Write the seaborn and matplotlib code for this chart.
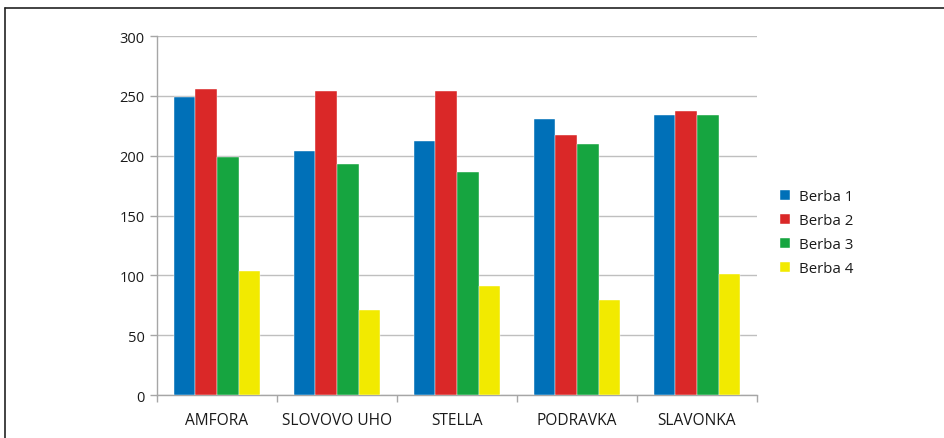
import matplotlib.pyplot as plt
import pandas as pd
import seaborn as sns
from matplotlib.lines import Line2D

# Data
sorts = ['AMFORA', 'SLOVOVO UHO', 'STELLA', 'PODRAVKA', 'SLAVONKA']
series = ['Berba 1', 'Berba 2', 'Berba 3', 'Berba 4']
berba1 = [249, 204, 212, 231, 234]
berba2 = [256, 254, 254, 217, 237]
berba3 = [199, 193, 186, 210, 234]
berba4 = [104, 71, 91, 79, 101]
colors = ['#0070B8', '#DA2828', '#16A540', '#F2EA00']

df = pd.DataFrame({'sort': sorts * 4,
                   'berba': [s for s in series for _ in sorts],
                   'value': berba1 + berba2 + berba3 + berba4})

sns.set_style('white')
plt.rcParams['font.family'] = ['Open Sans', 'DejaVu Sans']

fig = plt.figure(figsize=(9.44, 4.39), dpi=100)
ax = fig.add_axes([0.1663, 0.0979, 0.6356, 0.8178])

sns.barplot(data=df, x='sort', y='value', hue='berba', order=sorts, hue_order=series,
            palette=colors, width=0.72, saturation=1, ax=ax,
            edgecolor='white', linewidth=0.3, zorder=3)

ax.set_ylim(0, 300)
ax.set_xlim(-0.5, 4.5)
ax.set_yticks(range(0, 301, 50))
ax.yaxis.grid(True, color='#BFBFBF', linewidth=1, zorder=0)
ax.set_axisbelow(True)
ax.set_xlabel('')
ax.set_ylabel('')

for s in ['top', 'right']:
    ax.spines[s].set_visible(False)
for s in ['left', 'bottom']:
    ax.spines[s].set_color('#A6A6A6')
    ax.spines[s].set_linewidth(1)

ax.tick_params(axis='y', which='major', left=True, length=5, width=1, color='#A6A6A6',
               labelsize=10.5, pad=4, labelcolor='#1a1a1a')
ax.set_xticks([-0.5, 0.5, 1.5, 2.5, 3.5, 4.5], minor=True)
ax.tick_params(axis='x', which='minor', bottom=True, length=5, width=1, color='#A6A6A6')
ax.tick_params(axis='x', which='major', length=0, pad=12, labelsize=11.2, labelcolor='#1a1a1a')

ax.legend(loc='center left', bbox_to_anchor=(0.818, 0.468), bbox_transform=fig.transFigure,
          frameon=False, fontsize=10.8, handlelength=0.7, handleheight=0.7,
          handletextpad=0.6, labelspacing=0.6, borderpad=0, labelcolor='#1a1a1a')

# outer frame of the original picture
fig.add_artist(Line2D([0.0053, 0.0053], [0, 0.979], color='#222222', linewidth=1.2,
                      transform=fig.transFigure))
fig.add_artist(Line2D([0.0053, 1.0], [0.979, 0.979], color='#222222', linewidth=1.2,
                      transform=fig.transFigure))

fig.savefig('out.png', dpi=100)
